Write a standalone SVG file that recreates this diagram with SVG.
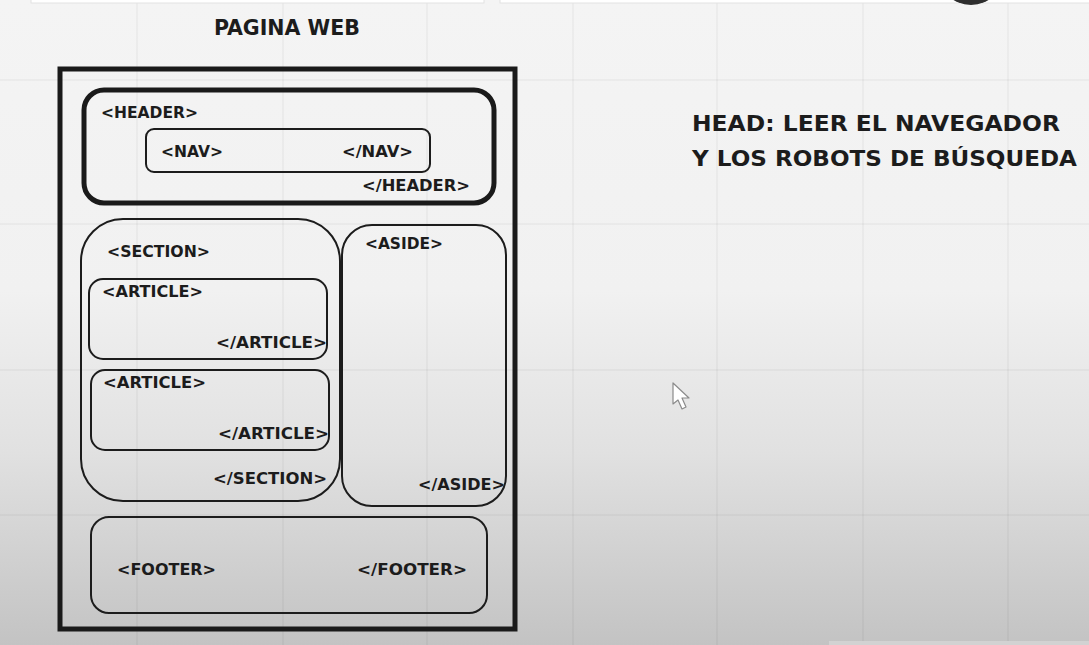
<svg xmlns="http://www.w3.org/2000/svg" width="1089" height="645" viewBox="0 0 1089 645">
  <defs>
    <linearGradient id="bg" x1="0" y1="0" x2="0" y2="1">
      <stop offset="0" stop-color="#f4f4f4"/>
      <stop offset="0.45" stop-color="#f1f1f1"/>
      <stop offset="0.7" stop-color="#e1e1e1"/>
      <stop offset="1" stop-color="#c3c3c3"/>
    </linearGradient>
    <style>
      .grid { stroke: #000; stroke-opacity: 0.045; stroke-width: 1.5; }
      .thin { fill: none; stroke: #1c1c1c; stroke-width: 2; }
      .thick { fill: none; stroke: #1a1a1a; stroke-width: 5; }
      .tag { font-family: "DejaVu Sans", "Liberation Sans", sans-serif; font-weight: bold; font-size: 16px; fill: #1c1c1c; }
      .title { font-family: "DejaVu Sans Condensed", "DejaVu Sans", sans-serif; font-weight: bold; font-size: 21px; fill: #1c1c1c; }
      .note { font-family: "DejaVu Sans", "Liberation Sans", sans-serif; font-weight: bold; font-size: 21px; fill: #1c1c1c; }
    </style>
  </defs>

  <rect x="0" y="0" width="1089" height="645" fill="url(#bg)"/>

  <g id="grid">
    <line class="grid" x1="137" y1="0" x2="137" y2="645"/>
    <line class="grid" x1="283" y1="0" x2="283" y2="645"/>
    <line class="grid" x1="427" y1="0" x2="427" y2="645"/>
    <line class="grid" x1="573" y1="0" x2="573" y2="645"/>
    <line class="grid" x1="717" y1="0" x2="717" y2="645"/>
    <line class="grid" x1="863" y1="0" x2="863" y2="645"/>
    <line class="grid" x1="1008" y1="0" x2="1008" y2="645"/>
    <line class="grid" x1="0" y1="80" x2="1089" y2="80"/>
    <line class="grid" x1="0" y1="224" x2="1089" y2="224"/>
    <line class="grid" x1="0" y1="370" x2="1089" y2="370"/>
    <line class="grid" x1="0" y1="515" x2="1089" y2="515"/>
  </g>

  <g id="screen-edges">
    <rect x="31" y="-4" width="453" height="7" fill="#ffffff" stroke="#e2e2e2" stroke-width="1"/>
    <rect x="500" y="-4" width="600" height="7" fill="#ffffff" stroke="#e2e2e2" stroke-width="1"/>
    <ellipse cx="971" cy="-30" rx="34" ry="35" fill="#2e2e2e"/>
    <rect x="829" y="641" width="270" height="10" fill="#d2d2d2"/>
  </g>

  <g id="title">
    <text class="title" x="214" y="35" textLength="146" lengthAdjust="spacingAndGlyphs">PAGINA WEB</text>
  </g>

  <g id="page">
    <rect x="60" y="69" width="455" height="560" class="thick" stroke-width="6"/>
  </g>

  <g id="header">
    <rect x="84" y="90" width="410" height="113" rx="20" class="thick"/>
    <text class="tag" x="101" y="118" textLength="97" lengthAdjust="spacingAndGlyphs">&lt;HEADER&gt;</text>
    <text class="tag" x="362" y="191" textLength="108" lengthAdjust="spacingAndGlyphs">&lt;/HEADER&gt;</text>
  </g>

  <g id="nav">
    <rect x="146" y="129" width="284" height="43" rx="8" class="thin"/>
    <text class="tag" x="161" y="157" textLength="62" lengthAdjust="spacingAndGlyphs">&lt;NAV&gt;</text>
    <text class="tag" x="342" y="157" textLength="71" lengthAdjust="spacingAndGlyphs">&lt;/NAV&gt;</text>
  </g>

  <g id="section">
    <rect x="81" y="219" width="259" height="282" rx="42" class="thin"/>
    <text class="tag" x="107" y="257" textLength="103" lengthAdjust="spacingAndGlyphs">&lt;SECTION&gt;</text>
    <text class="tag" x="213" y="484" textLength="114" lengthAdjust="spacingAndGlyphs">&lt;/SECTION&gt;</text>
  </g>

  <g id="article-1">
    <rect x="89" y="279" width="238" height="80" rx="14" class="thin"/>
    <text class="tag" x="102" y="297" textLength="101" lengthAdjust="spacingAndGlyphs">&lt;ARTICLE&gt;</text>
    <text class="tag" x="216" y="348" textLength="111" lengthAdjust="spacingAndGlyphs">&lt;/ARTICLE&gt;</text>
  </g>

  <g id="article-2">
    <rect x="91" y="370" width="238" height="80" rx="14" class="thin"/>
    <text class="tag" x="103" y="388" textLength="103" lengthAdjust="spacingAndGlyphs">&lt;ARTICLE&gt;</text>
    <text class="tag" x="218" y="439" textLength="111" lengthAdjust="spacingAndGlyphs">&lt;/ARTICLE&gt;</text>
  </g>

  <g id="aside">
    <rect x="342" y="225" width="164" height="281" rx="30" class="thin"/>
    <text class="tag" x="365" y="249" textLength="78" lengthAdjust="spacingAndGlyphs">&lt;ASIDE&gt;</text>
    <text class="tag" x="418" y="490" textLength="87" lengthAdjust="spacingAndGlyphs">&lt;/ASIDE&gt;</text>
  </g>

  <g id="footer">
    <rect x="91" y="517" width="396" height="96" rx="18" class="thin"/>
    <text class="tag" x="117" y="575" textLength="99" lengthAdjust="spacingAndGlyphs">&lt;FOOTER&gt;</text>
    <text class="tag" x="357" y="575" textLength="110" lengthAdjust="spacingAndGlyphs">&lt;/FOOTER&gt;</text>
  </g>

  <g id="head-note">
    <text class="note" x="692" y="131" textLength="368" lengthAdjust="spacingAndGlyphs">HEAD: LEER EL NAVEGADOR</text>
    <text class="note" x="692" y="166" textLength="385" lengthAdjust="spacingAndGlyphs">Y LOS ROBOTS DE BÚSQUEDA</text>
  </g>

  <g id="connectors"/>

  <g id="cursor">
    <path d="M673,383 L673,404 L678,400 L682,409 L686,407 L682,398 L689,398 Z" fill="#ffffff" stroke="#8a8a8a" stroke-width="1.2" stroke-linejoin="round"/>
  </g>
</svg>
